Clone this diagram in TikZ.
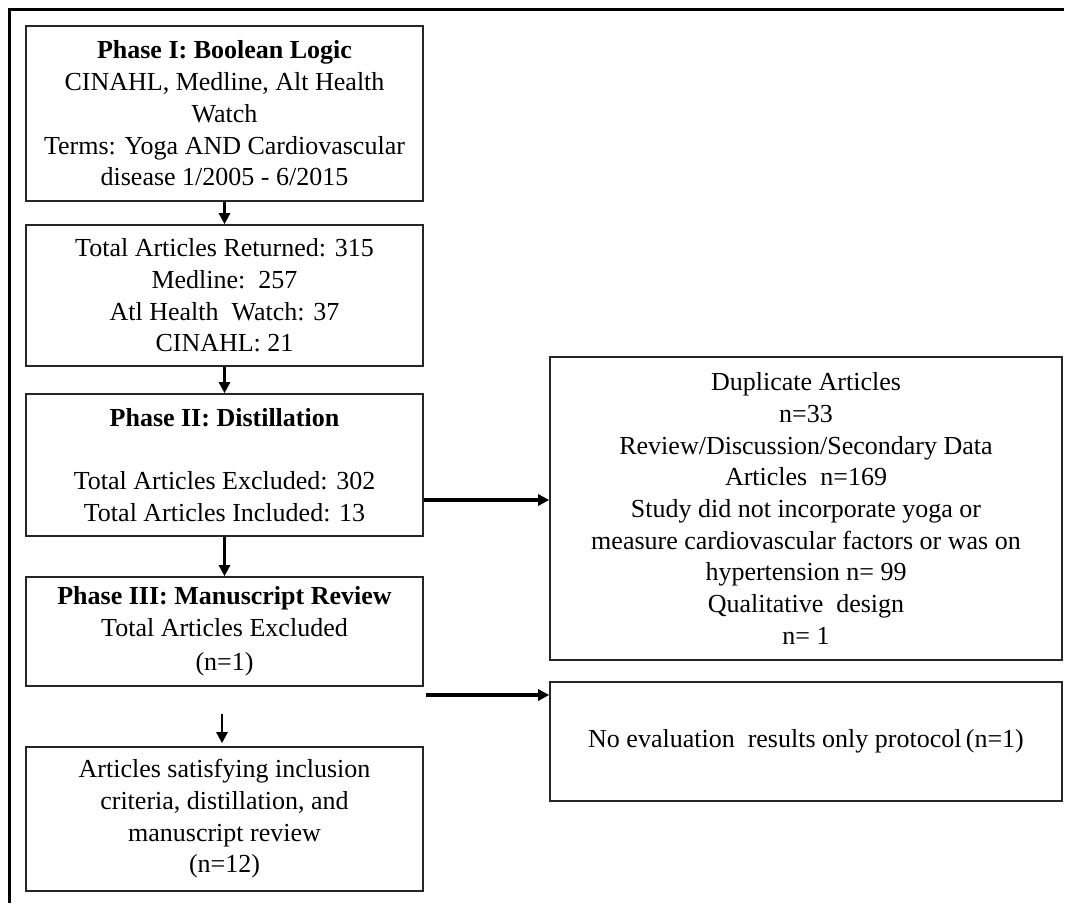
\documentclass[tikz,border=0pt]{standalone}
\usepackage{fontspec}
\setmainfont{Liberation Serif}
\usetikzlibrary{arrows.meta,calc}
\begin{document}
\begin{tikzpicture}[x=1pt,y=-1pt,
  box/.style={draw=black!85, line width=1.6pt, inner sep=0pt, align=center, font=\fontsize{26}{31.7}\selectfont},
  lbox/.style={box, minimum width=397pt},
  rbox/.style={box, minimum width=512pt},
  arr/.style={line width=2.4pt, -{Triangle[length=11pt,width=11pt]}},
  harr/.style={line width=3.2pt, -{Triangle[length=11pt,width=11pt]}}]
\useasboundingbox (0,0) rectangle (1065,903);
\draw[line width=3pt] (1064,9) -- (9,9) -- (9,903);
\node[lbox, minimum height=175pt] (b1) at (224.5,113.5) {\textbf{Phase I: Boolean Logic}\\CINAHL, Medline, Alt Health\\Watch\\Terms: Yoga AND Cardiovascular\\disease 1/2005 - 6/2015};
\node[lbox, minimum height=141pt] (b2) at (224.5,295.5) {Total Articles Returned: 315\\Medline:\ \ 257\\Atl Health\ \ Watch: 37\\CINAHL: 21};
\node[lbox, minimum height=142pt] (b3) at (224.5,465) {\textbf{Phase II: Distillation}\\[31.7pt]Total Articles Excluded: 302\\Total Articles Included: 13};
\node[lbox, minimum height=109pt] (b4) at (224.5,631.5) {\textbf{Phase III: Manuscript Review}\\Total Articles Excluded\\[3pt](n=1)};
\node[lbox, minimum height=144pt] (b5) at (224.5,819) {Articles satisfying inclusion\\criteria, distillation, and\\manuscript review\\(n=12)};
\node[rbox, minimum height=303pt] (r1) at (806,508.5) {Duplicate Articles\\n=33\\Review/Discussion/Secondary Data\\Articles\ \ n=169\\Study did not incorporate yoga or\\measure cardiovascular factors or was on\\hypertension n= 99\\Qualitative\ \ design\\n= 1};
\node[rbox, minimum height=119pt] (r2) at (806,741.5) {No evaluation\ \ results only protocol\,(n=1)};
\draw[arr] (b1.south) -- (b2.north);
\draw[arr] (b2.south) -- (b3.north);
\draw[arr] (b3.south) -- (b4.north);
\coordinate (y1) at (0,500);
\coordinate (y2) at (0,695);
\coordinate (d1) at (222,714);
\draw[harr] (b3.east |- y1) -- (r1.west |- y1);
\draw[harr] ([xshift=2pt]b4.east |- y2) -- (r2.west |- y2);
\draw[arr, shorten >=3pt] (d1) -- (d1 |- b5.north);
\end{tikzpicture}
\end{document}
